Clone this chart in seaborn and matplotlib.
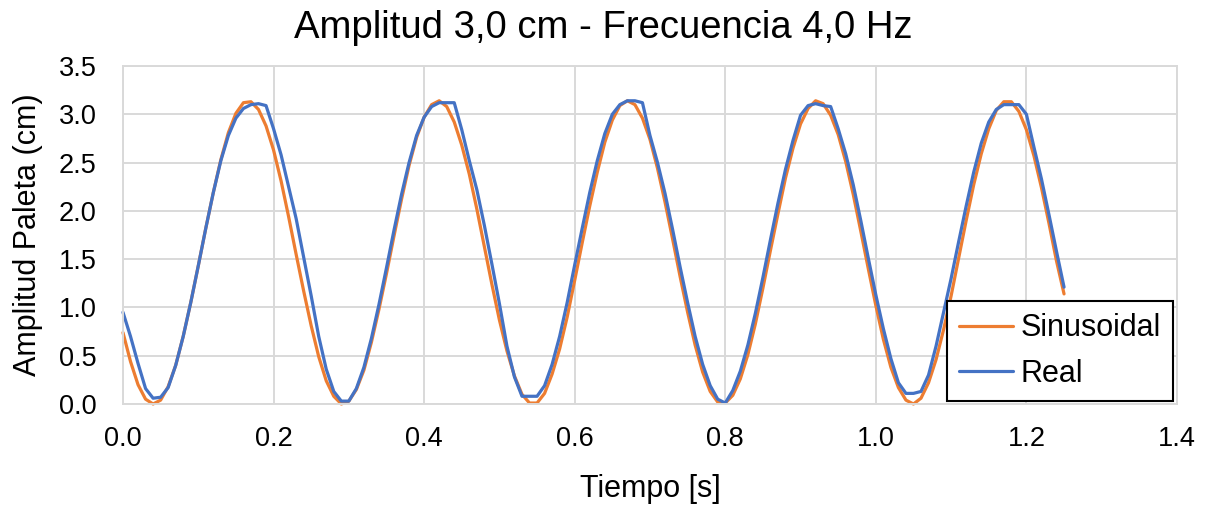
import numpy as np
import pandas as pd
import matplotlib
matplotlib.use('Agg')
import matplotlib.pyplot as plt
from matplotlib.ticker import FormatStrFormatter
import seaborn as sns

# Tiempo de muestreo (s), un punto cada 0.01 s
tiempo = np.round(np.arange(126) * 0.01, 2)

# Amplitud de la paleta (cm)
sinusoidal = [
    0.74, 0.44, 0.20, 0.05, 0.00, 0.04, 0.18, 0.40, 0.70, 1.05,
    1.43, 1.82, 2.19, 2.53, 2.81, 3.01, 3.12, 3.13, 3.05, 2.88,
    2.63, 2.31, 1.94, 1.55, 1.17, 0.81, 0.49, 0.24, 0.08, 0.00,
    0.03, 0.15, 0.35, 0.64, 0.98, 1.35, 1.74, 2.12, 2.47, 2.76,
    2.97, 3.10, 3.14, 3.08, 2.92, 2.68, 2.38, 2.02, 1.63, 1.24,
    0.87, 0.55, 0.29, 0.10, 0.01, 0.01, 0.11, 0.31, 0.57, 0.90,
    1.28, 1.67, 2.05, 2.40, 2.71, 2.94, 3.09, 3.14, 3.10, 2.96,
    2.74, 2.44, 2.09, 1.71, 1.32, 0.95, 0.61, 0.33, 0.13, 0.02,
    0.01, 0.09, 0.26, 0.51, 0.83, 1.20, 1.59, 1.97, 2.34, 2.65,
    2.90, 3.06, 3.14, 3.11, 2.99, 2.79, 2.51, 2.17, 1.79, 1.40,
    1.02, 0.67, 0.38, 0.17, 0.04, 0.00, 0.06, 0.22, 0.46, 0.77,
    1.12, 1.51, 1.90, 2.27, 2.59, 2.85, 3.04, 3.13, 3.13, 3.03,
    2.84, 2.57, 2.24, 1.87, 1.48, 1.14,
]

real = [
    0.95, 0.70, 0.42, 0.16, 0.06, 0.07, 0.17, 0.40, 0.70, 1.05,
    1.43, 1.82, 2.19, 2.52, 2.78, 2.96, 3.06, 3.10, 3.11, 3.09,
    2.85, 2.58, 2.25, 1.92, 1.52, 1.12, 0.70, 0.36, 0.13, 0.03,
    0.03, 0.16, 0.38, 0.68, 1.03, 1.41, 1.80, 2.17, 2.50, 2.78,
    2.97, 3.08, 3.12, 3.12, 3.12, 2.84, 2.52, 2.22, 1.85, 1.45,
    1.04, 0.60, 0.28, 0.08, 0.08, 0.08, 0.19, 0.41, 0.70, 1.05,
    1.44, 1.82, 2.19, 2.52, 2.80, 3.00, 3.10, 3.14, 3.14, 3.12,
    2.78, 2.50, 2.18, 1.81, 1.42, 1.05, 0.70, 0.41, 0.19, 0.05,
    0.01, 0.14, 0.34, 0.61, 0.94, 1.31, 1.70, 2.08, 2.43, 2.73,
    2.99, 3.09, 3.11, 3.09, 3.08, 2.85, 2.59, 2.27, 1.90, 1.51,
    1.13, 0.78, 0.47, 0.22, 0.11, 0.11, 0.13, 0.30, 0.60, 0.95,
    1.30, 1.68, 2.05, 2.40, 2.70, 2.92, 3.05, 3.10, 3.10, 3.10,
    3.00, 2.66, 2.33, 1.96, 1.58, 1.21,
]

series = ['Sinusoidal', 'Real']
colores = {'Sinusoidal': '#ED7D31', 'Real': '#4472C4'}

df = pd.DataFrame({
    'Tiempo': np.concatenate([tiempo, tiempo]),
    'Amplitud': sinusoidal + real,
    'Serie': ['Sinusoidal'] * len(sinusoidal) + ['Real'] * len(real),
})

sns.set_style("white")
plt.rcParams['font.family'] = ['Liberation Sans', 'DejaVu Sans']
plt.rcParams['text.color'] = 'black'
plt.rcParams['axes.labelcolor'] = 'black'

fig = plt.figure(figsize=(12.14, 5.05), dpi=100)
ax = fig.add_axes([0.1013, 0.2, 0.8682, 0.6693])

sns.lineplot(data=df, x='Tiempo', y='Amplitud', hue='Serie', hue_order=series,
             palette=colores, estimator=None, sort=False, linewidth=2.3, ax=ax)
for line in ax.lines:
    line.set_clip_on(False)
    line.set_solid_joinstyle('round')
    line.set_solid_capstyle('round')

ax.set_xlim(0, 1.4)
ax.set_ylim(0, 3.5)
ax.set_xticks(np.arange(0, 1.41, 0.2))
ax.set_yticks(np.arange(0, 3.51, 0.5))
ax.xaxis.set_major_formatter(FormatStrFormatter('%.1f'))
ax.yaxis.set_major_formatter(FormatStrFormatter('%.1f'))

ax.grid(True, color='#d9d9d9', linewidth=1.4)
ax.set_axisbelow(True)
for s in ax.spines.values():
    s.set_visible(True)
    s.set_color('#d9d9d9')
    s.set_linewidth(1.4)
ax.tick_params(axis='both', length=0, labelsize=19.5, colors='black')
ax.tick_params(axis='x', pad=16)
ax.tick_params(axis='y', pad=19)

ax.set_xlabel('Tiempo [s]', fontsize=22, color='black')
ax.set_ylabel('Amplitud Paleta (cm)', fontsize=22, color='black')
ax.xaxis.set_label_coords(0.5, -0.207)
ax.yaxis.set_label_coords(-0.076, 0.5)

fig.suptitle('Amplitud 3,0 cm - Frecuencia 4,0 Hz', x=0.497, y=0.945,
             fontsize=27.5, va='center', color='black')

handles, labels = ax.get_legend_handles_labels()
leg = ax.legend(handles, labels, loc='lower right', bbox_to_anchor=(0.996, 0.009),
                fontsize=22, frameon=True, fancybox=False, edgecolor='black',
                framealpha=1, borderaxespad=0, handlelength=1.75,
                handletextpad=0.25, borderpad=0.4, labelspacing=0.5)
leg.get_frame().set_linewidth(1.5)
for txt in leg.get_texts():
    txt.set_color('black')

fig.savefig('out.png', dpi=100)
